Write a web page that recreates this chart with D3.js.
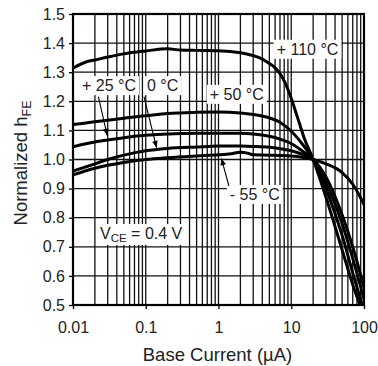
<!DOCTYPE html>
<html><head><meta charset="utf-8">
<script src="https://cdn.jsdelivr.net/npm/d3@7"></script>
<style>
html,body{margin:0;padding:0;background:#fff;}
svg{display:block;font-family:"Liberation Sans",Arial,Helvetica,sans-serif;}
</style></head>
<body><svg id="c" width="378" height="366"></svg>
<script>
// ---- data ----
const xTickValues = [0.01, 0.1, 1, 10, 100];
const xTickLabels = ["0.01", "0.1", "1", "10", "100"];
const yTickValues = [0.5, 0.6, 0.7, 0.8, 0.9, 1.0, 1.1, 1.2, 1.3, 1.4, 1.5];

const t110_x = [0.01, 0.015, 0.02, 0.03, 0.05, 0.1, 0.2, 0.3, 0.5, 1, 2, 3, 4, 5, 6, 7, 8, 10, 12, 15, 20, 30, 50, 70, 88];
const t110_y = [1.314, 1.335, 1.342, 1.352, 1.363, 1.373, 1.381, 1.376, 1.375, 1.374, 1.367, 1.357, 1.345, 1.33, 1.315, 1.295, 1.27, 1.21, 1.15, 1.075, 1.0, 0.87, 0.69, 0.57, 0.5];

const t50_x = [0.01, 0.02, 0.03, 0.05, 0.1, 0.2, 0.5, 1, 2, 3, 5, 7, 10, 14, 20, 30, 50, 70, 95];
const t50_y = [1.12, 1.13, 1.135, 1.142, 1.15, 1.158, 1.162, 1.163, 1.16, 1.155, 1.143, 1.128, 1.097, 1.055, 1.0, 0.90, 0.74, 0.61, 0.5];

const t25_x = [0.01, 0.02, 0.03, 0.05, 0.1, 0.2, 0.5, 1, 2, 3, 5, 7, 10, 14, 20, 30, 50, 70, 100];
const t25_y = [1.044, 1.06, 1.067, 1.075, 1.083, 1.088, 1.09, 1.09, 1.09, 1.088, 1.08, 1.07, 1.055, 1.03, 1.0, 0.92, 0.78, 0.66, 0.52];

const t0_x = [0.01, 0.02, 0.03, 0.05, 0.1, 0.2, 0.5, 1, 2, 3, 5, 7, 10, 14, 20, 30, 50, 70, 100];
const t0_y = [0.96, 0.985, 1.0, 1.015, 1.03, 1.038, 1.043, 1.046, 1.046, 1.045, 1.042, 1.037, 1.03, 1.018, 1.0, 0.94, 0.81, 0.70, 0.56];

const tm55_x = [0.01, 0.02, 0.03, 0.05, 0.1, 0.2, 0.5, 1, 1.5, 2, 2.5, 3, 5, 10, 14, 20, 30, 50, 70, 85, 100];
const tm55_y = [0.947, 0.97, 0.98, 0.99, 1.0, 1.006, 1.012, 1.016, 1.02, 1.025, 1.022, 1.016, 1.015, 1.012, 1.008, 1.0, 0.985, 0.955, 0.915, 0.88, 0.845];

const seriesNames = ["+ 110 °C", "+ 50 °C", "+ 25 °C", "0 °C", "- 55 °C"];

// annotation anchors in data units
const labelText = ["+ 110 °C", "+ 50 °C", "+ 25 °C", "0 °C", "- 55 °C"];
const labelX = [6.3, 0.76, 0.0133, 0.104, 1.43];
const labelY = [1.36, 1.205, 1.235, 1.235, 0.861];
const arrowFromX = [0.0223, 0.0945, 1.39];
const arrowFromY = [1.216, 1.216, 0.909];
const arrowToX = [0.0296, 0.141, 1.096];
const arrowToY = [1.082, 1.040, 1.004];

// ---- chart ----
const svg = d3.select("#c");
const L = 73, R = 364, T = 14, B = 305;
const x = d3.scaleLog().domain([0.01, 100]).range([L, R]);
const y = d3.scaleLinear().domain([0.5, 1.5]).range([B, T]);

// grid
const g = svg.append("g");
g.selectAll("line.v").data(x.ticks()).join("line")
  .attr("x1", d => x(d)).attr("x2", d => x(d)).attr("y1", T).attr("y2", B)
  .attr("stroke", "#111").attr("stroke-width", 1.3);
g.selectAll("line.h").data(yTickValues).join("line")
  .attr("x1", L).attr("x2", R).attr("y1", d => y(d)).attr("y2", d => y(d))
  .attr("stroke", "#111").attr("stroke-width", 1.3);

// axes
const xa = svg.append("g").attr("transform", `translate(0,${B})`)
  .call(d3.axisBottom(x).tickValues(xTickValues).tickFormat((d, i) => xTickLabels[i]).tickSize(4).tickSizeOuter(0).tickPadding(13));
const ya = svg.append("g").attr("transform", `translate(${L},0)`)
  .call(d3.axisLeft(y).tickValues(yTickValues).tickFormat(d3.format(".1f")).tickSize(4).tickSizeOuter(0).tickPadding(4));
[xa, ya].forEach(a => {
  a.select(".domain").remove();
  a.selectAll("line").attr("stroke", "#000").attr("stroke-width", 1.3);
  a.selectAll("text").attr("font-size", 16).attr("fill", "#222").attr("font-family", "Liberation Sans, Arial, sans-serif");
});

// curves
const line = d3.line().x(d => x(d[0])).y(d => y(d[1])).curve(d3.curveMonotoneX);
const series = [[t110_x, t110_y], [t50_x, t50_y], [t25_x, t25_y], [t0_x, t0_y], [tm55_x, tm55_y]];
svg.append("clipPath").attr("id", "pc").append("rect").attr("x", L).attr("y", T).attr("width", R - L).attr("height", B - T);
svg.append("g").attr("clip-path", "url(#pc)").selectAll("path").data(series).join("path")
  .attr("d", s => line(s[0].map((v, i) => [v, s[1][i]])))
  .attr("fill", "none").attr("stroke", "#000").attr("stroke-width", 3).attr("stroke-linejoin", "round");

// frame
svg.append("rect").attr("x", L).attr("y", T).attr("width", R - L).attr("height", B - T)
  .attr("fill", "none").attr("stroke", "#000").attr("stroke-width", 2.2);

// labels with white boxes
const fontLab = 16;
function boxedText(px, py, build) {
  const gg = svg.append("g");
  const r = gg.append("rect").attr("fill", "#fff");
  const t = gg.append("text").attr("x", px).attr("y", py).attr("font-size", fontLab).attr("fill", "#222");
  build(t);
  const bb = t.node().getBBox();
  r.attr("x", bb.x - 3).attr("y", bb.y - 1).attr("width", bb.width + 6).attr("height", bb.height + 2);
}
labelText.forEach((s, i) => boxedText(x(labelX[i]), y(labelY[i]), t => t.text(s)));
boxedText(x(0.0235), y(0.727), t => {
  t.append("tspan").text("V");
  t.append("tspan").attr("font-size", 11.5).attr("dy", 3).text("CE");
  t.append("tspan").attr("dy", -3).text(" = 0.4 V");
});

// arrows
const defs = svg.append("defs");
defs.append("marker").attr("id", "ah").attr("viewBox", "0 0 10 10").attr("refX", 10).attr("refY", 5)
  .attr("markerWidth", 9).attr("markerHeight", 7).attr("markerUnits", "userSpaceOnUse").attr("orient", "auto")
  .append("path").attr("d", "M0,1 L10,5 L0,9 Z").attr("fill", "#000");
svg.selectAll("line.arr").data(arrowFromX).join("line")
  .attr("x1", (d, i) => x(arrowFromX[i])).attr("y1", (d, i) => y(arrowFromY[i]))
  .attr("x2", (d, i) => x(arrowToX[i])).attr("y2", (d, i) => y(arrowToY[i]))
  .attr("stroke", "#000").attr("stroke-width", 1.1).attr("marker-end", "url(#ah)");

// titles
svg.append("text").attr("x", (L + R) / 2 - 1).attr("y", 361).attr("text-anchor", "middle")
  .attr("font-size", 18.5).attr("fill", "#222").text("Base Current (µA)");
const yt = svg.append("text").attr("transform", "translate(27,163) rotate(-90)").attr("text-anchor", "middle")
  .attr("font-size", 18.5).attr("fill", "#222");
yt.append("tspan").text("Normalized h");
yt.append("tspan").attr("font-size", 12.5).attr("dy", 4).text("FE");
</script></body></html>
